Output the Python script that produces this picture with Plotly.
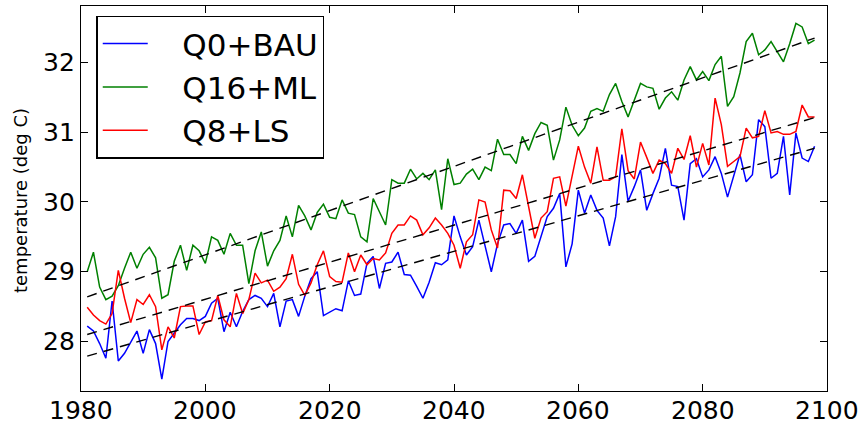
import plotly.graph_objects as go

years = list(range(1981, 2099))

q16_ml = [29.0, 29.28, 28.78, 28.6, 28.65, 28.8, 29.05, 29.28, 29.05, 29.25,
          29.35, 29.2, 28.62, 28.67, 29.15, 29.38, 29.02, 29.38, 29.3, 29.12,
          29.5, 29.45, 29.25, 29.55, 29.38, 29.38, 28.83, 29.3, 29.57, 29.08,
          29.3, 29.45, 29.8, 29.5, 29.95, 29.8, 29.6, 29.85, 29.97, 29.78,
          29.76, 30.03, 29.84, 29.82, 29.5, 29.43, 30.05, 29.85, 29.67, 30.32,
          30.27, 30.27, 30.47, 30.33, 30.41, 30.32, 30.46, 29.89, 30.62, 30.25,
          30.27, 30.4, 30.47, 30.32, 30.5, 30.45, 30.9, 30.68, 30.68, 30.55,
          30.94, 30.74, 30.98, 31.14, 31.1, 30.6, 30.89, 31.36, 31.1, 30.95,
          31.06, 31.3, 31.34, 31.3, 31.54, 31.7, 31.44, 31.22, 31.46, 31.7,
          31.65, 31.63, 31.33, 31.49, 31.58, 31.46, 31.75, 31.94, 31.75, 31.87,
          31.74, 31.97, 32.09, 31.37, 31.51, 31.85, 32.3, 32.42, 32.11, 32.18,
          32.3, 32.15, 32.01, 32.27, 32.56, 32.51, 32.27, 32.32]

q8_ls = [28.49, 28.38, 28.3, 28.25, 28.4, 29.02, 28.62, 28.27, 28.6, 28.53,
         28.67, 28.5, 27.88, 28.21, 28.05, 28.5, 28.51, 28.51, 28.1, 28.28,
         28.3, 28.66, 28.31, 28.21, 28.69, 28.4, 28.6, 28.98, 28.84, 28.88,
         28.72, 28.78, 28.9, 29.25, 28.82, 28.66, 28.84, 29.1, 29.3, 28.93,
         28.86, 28.85, 29.27, 29.0, 29.24, 29.1, 29.19, 29.17, 29.27, 29.55,
         29.67, 29.67, 29.8, 29.74, 29.53, 29.63, 29.77, 29.67, 29.55, 29.38,
         29.05, 29.43, 29.53, 30.03, 30.0, 29.6, 29.34, 30.17, 30.16, 30.05,
         30.39, 29.93, 29.48, 29.77, 29.86, 30.34, 30.36, 29.94, 30.35, 30.8,
         30.5, 30.27, 30.79, 30.31, 30.31, 30.36, 31.05, 30.45, 30.33, 30.86,
         30.64, 30.41, 30.6, 30.55, 30.41, 30.77, 30.61, 30.95, 30.5, 30.84,
         30.53, 31.49, 31.11, 30.51, 30.58, 30.65, 31.06, 30.92, 30.94, 31.31,
         30.99, 31.01, 30.97, 30.97, 31.01, 31.39, 31.22, 31.22]

q0_bau = [28.22, 28.15, 27.97, 27.76, 28.58, 27.72, 27.83, 28.0, 28.15, 27.83,
          28.17, 27.97, 27.46, 28.0, 28.12, 28.24, 28.33, 28.33, 28.3, 28.36,
          28.55, 28.62, 28.14, 28.42, 28.21, 28.43, 28.6, 28.66, 28.62, 28.5,
          28.69, 28.21, 28.58, 28.6, 28.36, 28.65, 28.9, 29.0, 28.37, 28.42,
          28.47, 28.44, 28.87, 28.66, 28.68, 29.12, 29.22, 28.76, 29.12, 29.14,
          29.28, 28.96, 28.95, 28.79, 28.62, 28.85, 29.13, 29.1, 29.17, 29.8,
          29.5, 29.24, 29.36, 29.74, 29.38, 29.0, 29.4, 29.67, 29.69, 29.55,
          29.74, 29.15, 29.22, 29.5, 29.79, 29.91, 30.12, 29.07, 29.4, 30.17,
          29.84, 30.1, 29.88, 29.77, 29.37, 29.79, 30.68, 30.01, 30.22, 30.46,
          29.88, 30.12, 30.34, 30.77, 30.24, 30.22, 29.74, 30.55, 30.62, 30.36,
          30.46, 30.65, 30.41, 30.07, 30.36, 30.68, 30.29, 30.39, 31.18, 31.08,
          30.34, 30.41, 30.94, 30.1, 30.99, 30.63, 30.58, 30.8]

trend_years = [1981, 2098]
trend_q0 = [27.79, 30.77]
trend_q16 = [28.64, 32.35]
trend_q8 = [28.1, 31.21]

x_ticks = [1980, 2000, 2020, 2040, 2060, 2080, 2100]
y_ticks = [28, 29, 30, 31, 32]

FONT = "DejaVu Sans"
PAD = "\u00a0\u00a0\u00a0"

fig = go.Figure()
series = [("Q0+BAU", q0_bau, "#0000ff"),
          ("Q16+ML", q16_ml, "#008000"),
          ("Q8+LS", q8_ls, "#ff0000")]
for i, (name, vals, col) in enumerate(series):
    fig.add_trace(go.Scatter(x=years, y=vals, mode="lines", name=PAD + name,
                             legendgroup=f"g{i}",
                             line=dict(color=col, width=1.5)))
for tv in (trend_q0, trend_q16, trend_q8):
    fig.add_trace(go.Scatter(x=trend_years, y=tv, mode="lines", showlegend=False,
                             line=dict(color="black", width=1.4, dash="10px,7px")))

axis_common = dict(showgrid=False, zeroline=False, showline=True, linecolor="black",
                   linewidth=1.3, mirror="ticks", ticks="inside", ticklen=7,
                   tickwidth=1, tickcolor="black", automargin=False)

fig.update_xaxes(range=[1980, 2100], tickvals=x_ticks, showticklabels=False,
                 **axis_common)
fig.update_yaxes(range=[27.29, 32.81], tickvals=y_ticks,
                 tickfont=dict(family=FONT, size=25, color="black"),
                 **axis_common)

# x tick labels placed just under the axis
for v in x_ticks:
    fig.add_annotation(text=str(v), x=v, xref="x", y=0, yref="paper",
                       yanchor="middle", xanchor="center", yshift=-19,
                       showarrow=False, borderpad=0,
                       font=dict(family=FONT, size=25, color="black"))

fig.add_annotation(text="temperature (deg C)", xref="paper", yref="paper",
                   x=-0.0818, y=0.496, textangle=-90, showarrow=False,
                   xanchor="center", yanchor="middle",
                   font=dict(family=FONT, size=18, color="black"))

fig.update_layout(
    width=865, height=426,
    margin=dict(l=81, r=38, t=6, b=35, autoexpand=False),
    paper_bgcolor="white", plot_bgcolor="white",
    showlegend=True,
    legend=dict(x=0.0207, y=0.975, xanchor="left", yanchor="top",
                bgcolor="white", bordercolor="black", borderwidth=1.3,
                font=dict(family=FONT, size=31, color="black"),
                traceorder="grouped", tracegroupgap=0, itemwidth=45),
)

fig.write_html("out.html", config={"displayModeBar": False},
               post_script="document.body.style.margin='0';document.body.style.overflow='hidden';")
